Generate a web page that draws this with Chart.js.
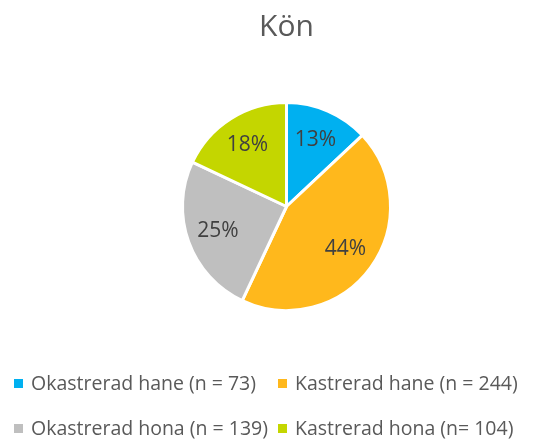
<!DOCTYPE html>
<html>
<head>
<meta charset="utf-8">
<script src="https://cdn.jsdelivr.net/npm/chart.js@4"></script>
<style>
  html, body { margin: 0; padding: 0; background: #fff; }
  #wrap { position: relative; width: 555px; height: 439px; }
  #legend { position: absolute; left: 0; top: 0; width: 555px; height: 439px; pointer-events: none;
    font-family: "Open Sans", Lato, sans-serif; font-size: 19.5px; color: #595959; }
  .item { position: absolute; white-space: nowrap; line-height: 24px; }
  .box { position: absolute; width: 9px; height: 9px; top: 8px; left: 0; }
  .txt { position: absolute; left: 17px; top: 0; }
</style>
</head>
<body>
<div id="wrap">
  <canvas id="c" width="555" height="439"></canvas>
  <div id="legend"></div>
</div>
<script>
const categories = [
  "Okastrerad hane (n = 73)",
  "Kastrerad hane (n = 244)",
  "Okastrerad hona (n = 139)",
  "Kastrerad hona (n= 104)",
];
const percentages = [13, 44, 25, 18];
const colors = ["#00B0F0", "#FFB81C", "#BFBFBF", "#C4D600"];

// percent labels placed at ~70% of the radius, like Excel's best fit
const sliceLabels = {
  id: "sliceLabels",
  afterDatasetsDraw(chart) {
    const { ctx } = chart;
    const meta = chart.getDatasetMeta(0);
    ctx.save();
    ctx.font = "21px 'Open Sans', Lato, sans-serif";
    ctx.fillStyle = "#404040";
    ctx.textAlign = "center";
    ctx.textBaseline = "middle";
    meta.data.forEach((arc, i) => {
      const { x, y, startAngle, endAngle, outerRadius } = arc.getProps(
        ["x", "y", "startAngle", "endAngle", "outerRadius"], true);
      const mid = (startAngle + endAngle) / 2;
      const r = outerRadius * 0.7;
      ctx.fillText(percentages[i] + "%", x + Math.cos(mid) * r, y + Math.sin(mid) * r);
    });
    ctx.restore();
  },
};

const chart = new Chart(document.getElementById("c"), {
  type: "pie",
  data: {
    labels: categories,
    datasets: [{
      data: percentages,
      backgroundColor: colors,
      borderColor: "#ffffff",
      borderWidth: 3,
    }],
  },
  options: {
    responsive: false,
    animation: false,
    layout: { padding: { left: 18, right: 0, top: 0, bottom: 127 } },
    plugins: {
      legend: { display: false },
      tooltip: { enabled: false },
      title: {
        display: true,
        text: "Kön",
        color: "#595959",
        font: { family: "'Open Sans', Lato, sans-serif", size: 30, weight: "normal" },
        padding: { top: 9, bottom: 56 },
      },
    },
  },
  plugins: [sliceLabels],
});

// two-column legend below the pie
const legendEl = document.getElementById("legend");
const colX = [14, 278];
const rowY = [371, 416];
chart.options.plugins.legend.labels.generateLabels(chart).forEach((item, i) => {
  const div = document.createElement("div");
  div.className = "item";
  div.style.left = colX[i % 2] + "px";
  div.style.top = rowY[Math.floor(i / 2)] + "px";
  div.innerHTML = '<span class="box" style="background:' + item.fillStyle + '"></span>' +
    '<span class="txt"></span>';
  div.querySelector(".txt").textContent = item.text;
  legendEl.appendChild(div);
});
</script>
</body>
</html>
